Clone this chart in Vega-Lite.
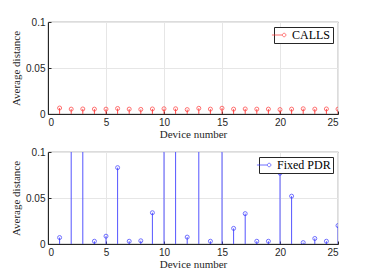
{
  "$schema": "https://vega.github.io/schema/vega-lite/v6.json",
  "padding": {"left": 10, "top": 16, "right": 5, "bottom": 0},
  "spacing": 6,
  "config": {
    "view": {"stroke": "#262626", "strokeWidth": 0.8},
    "axis": {
      "labelFont": "Liberation Sans", "labelFontSize": 10, "labelColor": "#262626",
      "titleFont": "Liberation Serif", "titleFontSize": 11, "titleFontWeight": "normal", "titleColor": "#262626",
      "gridColor": "#e6e6e6", "domainColor": "#262626", "tickColor": "#262626",
      "tickSize": -3, "labelPadding": 6
    },
    "legend": {
      "labelFont": "Liberation Serif", "labelFontSize": 12, "labelColor": "#000",
      "strokeColor": "#262626", "fillColor": "#ffffff", "padding": 2, "orient": "top-right", "offset": 5,
      "title": null, "symbolStrokeWidth": 1, "symbolSize": 60
    }
  },
  "datasets": {
    "calls": [
      {"device": 1, "dist": 0.0065, "series": "CALLS"},
      {"device": 2, "dist": 0.0053, "series": "CALLS"},
      {"device": 3, "dist": 0.0055, "series": "CALLS"},
      {"device": 4, "dist": 0.0053, "series": "CALLS"},
      {"device": 5, "dist": 0.0053, "series": "CALLS"},
      {"device": 6, "dist": 0.006, "series": "CALLS"},
      {"device": 7, "dist": 0.0053, "series": "CALLS"},
      {"device": 8, "dist": 0.005, "series": "CALLS"},
      {"device": 9, "dist": 0.0055, "series": "CALLS"},
      {"device": 10, "dist": 0.0057, "series": "CALLS"},
      {"device": 11, "dist": 0.0057, "series": "CALLS"},
      {"device": 12, "dist": 0.0048, "series": "CALLS"},
      {"device": 13, "dist": 0.0062, "series": "CALLS"},
      {"device": 14, "dist": 0.0053, "series": "CALLS"},
      {"device": 15, "dist": 0.0063, "series": "CALLS"},
      {"device": 16, "dist": 0.0053, "series": "CALLS"},
      {"device": 17, "dist": 0.0055, "series": "CALLS"},
      {"device": 18, "dist": 0.0053, "series": "CALLS"},
      {"device": 19, "dist": 0.0053, "series": "CALLS"},
      {"device": 20, "dist": 0.0048, "series": "CALLS"},
      {"device": 21, "dist": 0.0053, "series": "CALLS"},
      {"device": 22, "dist": 0.0057, "series": "CALLS"},
      {"device": 23, "dist": 0.0053, "series": "CALLS"},
      {"device": 24, "dist": 0.0055, "series": "CALLS"},
      {"device": 25, "dist": 0.0053, "series": "CALLS"}
    ],
    "pdr": [
      {"device": 1, "dist": 0.007, "series": "Fixed PDR"},
      {"device": 2, "dist": 0.3, "series": "Fixed PDR"},
      {"device": 3, "dist": 0.3, "series": "Fixed PDR"},
      {"device": 4, "dist": 0.003, "series": "Fixed PDR"},
      {"device": 5, "dist": 0.0085, "series": "Fixed PDR"},
      {"device": 6, "dist": 0.083, "series": "Fixed PDR"},
      {"device": 7, "dist": 0.003, "series": "Fixed PDR"},
      {"device": 8, "dist": 0.0035, "series": "Fixed PDR"},
      {"device": 9, "dist": 0.034, "series": "Fixed PDR"},
      {"device": 10, "dist": 0.3, "series": "Fixed PDR"},
      {"device": 11, "dist": 0.3, "series": "Fixed PDR"},
      {"device": 12, "dist": 0.0075, "series": "Fixed PDR"},
      {"device": 13, "dist": 0.3, "series": "Fixed PDR"},
      {"device": 14, "dist": 0.003, "series": "Fixed PDR"},
      {"device": 15, "dist": 0.3, "series": "Fixed PDR"},
      {"device": 16, "dist": 0.017, "series": "Fixed PDR"},
      {"device": 17, "dist": 0.033, "series": "Fixed PDR"},
      {"device": 18, "dist": 0.003, "series": "Fixed PDR"},
      {"device": 19, "dist": 0.003, "series": "Fixed PDR"},
      {"device": 20, "dist": 0.077, "series": "Fixed PDR"},
      {"device": 21, "dist": 0.052, "series": "Fixed PDR"},
      {"device": 22, "dist": 0.0015, "series": "Fixed PDR"},
      {"device": 23, "dist": 0.006, "series": "Fixed PDR"},
      {"device": 24, "dist": 0.003, "series": "Fixed PDR"},
      {"device": 25, "dist": 0.02, "series": "Fixed PDR"}
    ]
  },
  "vconcat": [
    {
      "width": 290, "height": 92,
      "data": {"name": "calls"},
      "encoding": {
        "x": {"field": "device", "type": "quantitative", "scale": {"domain": [0, 25], "nice": false},
              "axis": {"values": [0, 5, 10, 15, 20, 25], "title": "Device number", "titlePadding": 1}},
        "y": {"field": "dist", "type": "quantitative", "scale": {"domain": [0, 0.1], "nice": false},
              "axis": {"values": [0, 0.05, 0.1], "format": "~g", "title": "Average distance"}}
      },
      "layer": [
        {"mark": {"type": "rule", "color": "#ff4d4d", "strokeWidth": 1, "clip": true},
         "encoding": {"y2": {"datum": 0}}},
        {"mark": {"type": "point", "shape": "circle", "size": 16, "strokeWidth": 1, "filled": false, "clip": true},
         "encoding": {"color": {"field": "series", "type": "nominal",
            "scale": {"range": ["#ff3333"]},
            "legend": {"symbolType": "M-2.6,0H0.1M1,0A0.45,0.45 0 1,1 0.1,0A0.45,0.45 0 1,1 1,0"}}}}
      ]
    },
    {
      "width": 290, "height": 92,
      "data": {"name": "pdr"},
      "encoding": {
        "x": {"field": "device", "type": "quantitative", "scale": {"domain": [0, 25], "nice": false},
              "axis": {"values": [0, 5, 10, 15, 20, 25], "title": "Device number", "titlePadding": 1}},
        "y": {"field": "dist", "type": "quantitative", "scale": {"domain": [0, 0.1], "nice": false},
              "axis": {"values": [0, 0.05, 0.1], "format": "~g", "title": "Average distance"}}
      },
      "layer": [
        {"mark": {"type": "rule", "color": "#5555ff", "strokeWidth": 1, "clip": true},
         "encoding": {"y2": {"datum": 0}}},
        {"mark": {"type": "point", "shape": "circle", "size": 16, "strokeWidth": 1, "filled": false, "clip": true},
         "encoding": {"color": {"field": "series", "type": "nominal",
            "scale": {"range": ["#3333ff"]},
            "legend": {"symbolType": "M-2.6,0H0.1M1,0A0.45,0.45 0 1,1 0.1,0A0.45,0.45 0 1,1 1,0"}}}}
      ]
    }
  ],
  "resolve": {"scale": {"color": "independent"}, "legend": {"color": "independent"}}
}
